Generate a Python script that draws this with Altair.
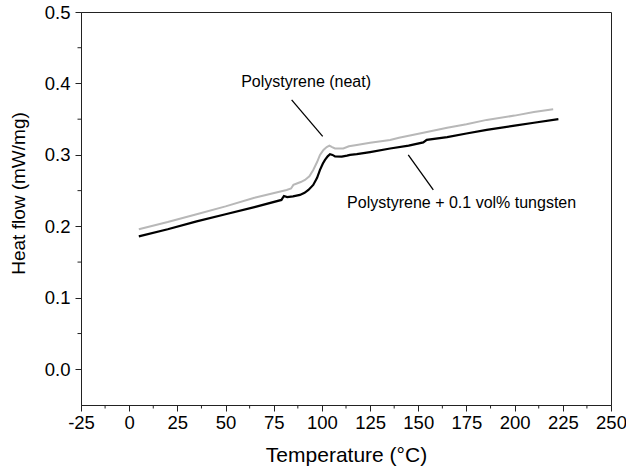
import altair as alt
import pandas as pd

# Polystyrene + 0.1 vol% tungsten (black)
t_black = [5, 20, 35, 50, 65, 79, 80.3, 82, 85, 88.6, 91, 93, 95.5, 97.5, 99, 100.5,
           101.6, 103, 104.2, 105.5, 106.8, 110.3, 113, 114.6, 118.1, 125, 135.4, 145,
           152.6, 154.4, 165, 175, 185.5, 200, 210, 222.7]
v_black = [0.186, 0.196, 0.207, 0.217, 0.227, 0.237, 0.2425, 0.241, 0.242, 0.244, 0.247,
           0.251, 0.258, 0.268, 0.279, 0.288, 0.293, 0.298, 0.301, 0.300, 0.298, 0.2975,
           0.299, 0.300, 0.301, 0.304, 0.309, 0.313, 0.3175, 0.321, 0.325, 0.330, 0.335,
           0.341, 0.345, 0.350]

# Polystyrene (neat) (gray)
t_gray = [5, 20, 35, 50, 65, 81.7, 84, 85.2, 87, 89, 91.2, 93.5, 95.5, 97.5, 99, 100.8,
          102.5, 103.9, 105.3, 106.8, 111.1, 114, 118.1, 125, 135.4, 140, 152.6, 165,
          175, 185.5, 200, 210, 220]
v_gray = [0.196, 0.206, 0.217, 0.228, 0.240, 0.251, 0.253, 0.258, 0.260, 0.262, 0.265,
          0.270, 0.279, 0.290, 0.300, 0.307, 0.311, 0.313, 0.311, 0.309, 0.309, 0.312,
          0.314, 0.317, 0.321, 0.324, 0.331, 0.338, 0.343, 0.349, 0.355, 0.360, 0.364]

# Annotations
ann_text = ["Polystyrene (neat)", "Polystyrene + 0.1 vol% tungsten"]
ann_tx = [91.8, 172.5]
ann_ty = [0.402, 0.233]
ptr_x1 = [84.3, 144.8]
ptr_y1 = [0.377, 0.300]
ptr_x2 = [100.4, 157.8]
ptr_y2 = [0.326, 0.251]

# Axis ticks
x_major = [-25, 0, 25, 50, 75, 100, 125, 150, 175, 200, 225, 250]
x_minor = [-12.5, 12.5, 37.5, 62.5, 87.5, 112.5, 137.5, 162.5, 187.5, 212.5, 237.5]
y_major = [0.0, 0.1, 0.2, 0.3, 0.4, 0.5]
y_minor = [0.05, 0.15, 0.25, 0.35, 0.45]

df_b = pd.DataFrame({"T": t_black, "v": v_black})
df_g = pd.DataFrame({"T": t_gray, "v": v_gray})
df_ann = pd.DataFrame({"text": ann_text, "x": ann_tx, "y": ann_ty})
df_ptr = pd.DataFrame({"x": ptr_x1, "y": ptr_y1, "x2": ptr_x2, "y2": ptr_y2})
df_xm = pd.DataFrame({"m": x_minor})
df_ym = pd.DataFrame({"m": y_minor})

FONT = "Liberation Sans"
INK = "#222"
TICK_FS = 18.5

x_scale = alt.Scale(domain=[-25, 250], nice=False, zero=False)
y_scale = alt.Scale(domain=[-0.05, 0.5], nice=False, zero=False)

x_axis = alt.Axis(
    values=x_major,
    labelExpr="replace(datum.label, '\u2212', '-')",
    tickSize=6, grid=False, title="Temperature (°C)", titleFontSize=21,
    titleFontWeight="normal", labelFontSize=TICK_FS, labelPadding=2, titlePadding=13,
    labelFlush=False, labelOverlap=False,
    domainColor=INK, tickColor=INK, labelColor="#000", titleColor="#000",
    labelFont=FONT, titleFont=FONT,
)
y_axis = alt.Axis(
    values=y_major, format=".1f",
    tickSize=6, grid=False, title="Heat flow (mW/mg)", titleFontSize=19,
    titleFontWeight="normal", labelFontSize=TICK_FS, labelPadding=5, titlePadding=16,
    titleY=181, labelOverlap=False,
    domainColor=INK, tickColor=INK, labelColor="#000", titleColor="#000",
    labelFont=FONT, titleFont=FONT,
)

gray = alt.Chart(df_g).mark_line(color="#b8b8b8", strokeWidth=2).encode(
    x=alt.X("T:Q", scale=x_scale, axis=x_axis),
    y=alt.Y("v:Q", scale=y_scale, axis=y_axis),
)
black = alt.Chart(df_b).mark_line(color="#000000", strokeWidth=2.2).encode(
    x=alt.X("T:Q", scale=x_scale),
    y=alt.Y("v:Q", scale=y_scale),
)
ptr = alt.Chart(df_ptr).mark_rule(color="#000", strokeWidth=1.3).encode(
    x=alt.X("x:Q", scale=x_scale), y=alt.Y("y:Q", scale=y_scale),
    x2="x2:Q", y2="y2:Q",
)
txt = alt.Chart(df_ann).mark_text(font=FONT, fontSize=16, color="#000",
                                  align="center", baseline="middle").encode(
    x=alt.X("x:Q", scale=x_scale), y=alt.Y("y:Q", scale=y_scale), text="text:N",
)
xminor = alt.Chart(df_xm).mark_rule(color=INK, strokeWidth=1).encode(
    x=alt.X("m:Q", scale=x_scale), y=alt.value(393), y2=alt.value(396.5),
)
yminor = alt.Chart(df_ym).mark_rule(color=INK, strokeWidth=1).encode(
    y=alt.Y("m:Q", scale=y_scale), x=alt.value(-3.5), x2=alt.value(0),
)

chart = alt.layer(gray, black, ptr, txt, xminor, yminor).properties(
    width=530, height=393,
    autosize=alt.AutoSizeParams(type="none"),
    padding={"left": 81, "top": 12, "right": 15, "bottom": 69},
    background="white",
).configure_view(stroke=INK, strokeWidth=1)

chart.save("out.html", embed_options={"renderer": "svg", "actions": False})
